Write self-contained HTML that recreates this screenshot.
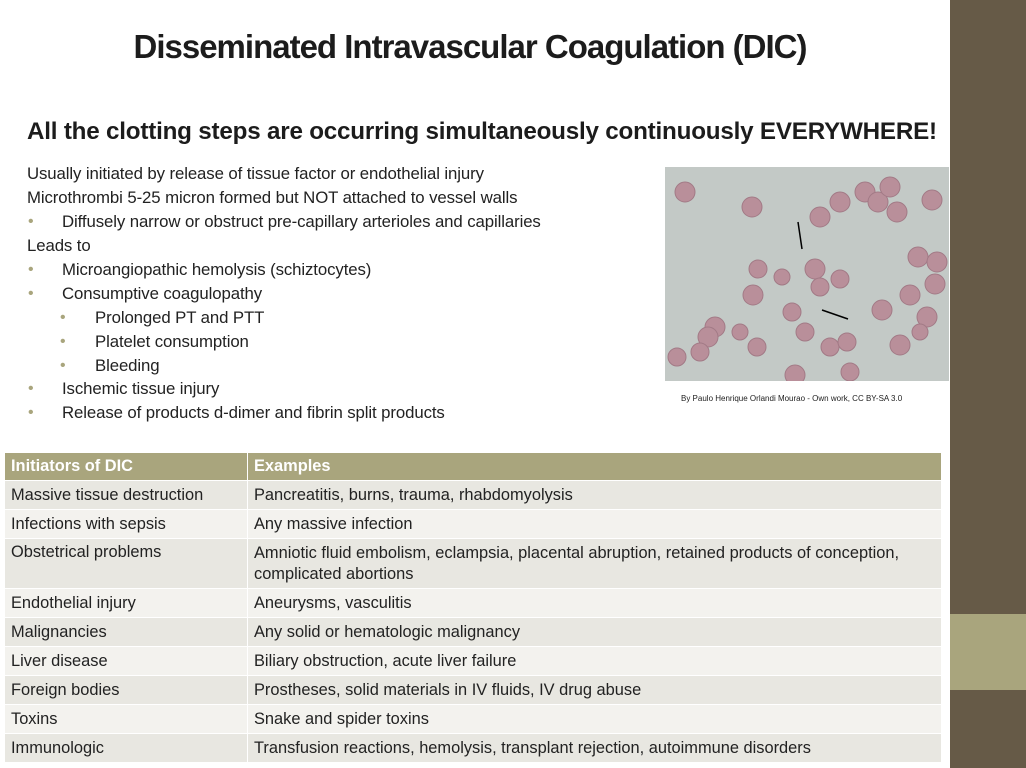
<!DOCTYPE html>
<html><head><meta charset="utf-8"><style>
body{margin:0;width:1026px;height:768px;position:relative;overflow:hidden;background:#fff;font-family:"Liberation Sans",sans-serif;color:#222}
.abs{position:absolute;white-space:nowrap}
#side{left:950px;top:0;width:76px;height:768px;background:#665a47}
#band{left:950px;top:614px;width:76px;height:76px;background:#a9a57d}
h1{position:absolute;left:0;width:940px;top:28px;margin:0;text-align:center;font-size:33px;font-weight:bold;letter-spacing:-1px;color:#1c1c1c}
h2{position:absolute;left:27px;top:118px;margin:0;font-size:24.2px;font-weight:bold;letter-spacing:-0.2px;color:#1c1c1c}
.l{position:absolute;font-size:16.8px;white-space:nowrap;letter-spacing:-0.1px}
.b{color:#a9a57d;position:absolute;font-size:16px}
table{position:absolute;left:4px;top:452px;width:938px;border-collapse:collapse;font-size:16.4px}
td{border:1px solid #fff;padding:0 6px;height:28px;vertical-align:middle}
td:first-child{width:230px}
th{background:#a9a57d;color:#fff;text-align:left;padding:0 6px;height:27px;border:1px solid #fff;font-size:16.4px}
tr.o td{background:#e8e7e1}tr.e td{background:#f3f2ee}
</style></head><body>
<div class="abs" id="side"></div>
<div class="abs" id="band"></div>
<h1>Disseminated Intravascular Coagulation (DIC)</h1>
<h2>All the clotting steps are occurring simultaneously continuously EVERYWHERE!</h2>
<div>
<div class="l" style="left:27px;top:164px">Usually initiated by release of tissue factor or endothelial injury</div>
<div class="l" style="left:27px;top:188px">Microthrombi 5-25 micron formed but NOT attached to vessel walls</div>
<div class="b" style="left:28px;top:213px">•</div><div class="l" style="left:62px;top:212px">Diffusely narrow or obstruct pre-capillary arterioles and capillaries</div>
<div class="l" style="left:27px;top:236px">Leads to</div>
<div class="b" style="left:28px;top:261px">•</div><div class="l" style="left:62px;top:260px">Microangiopathic hemolysis (schiztocytes)</div>
<div class="b" style="left:28px;top:285px">•</div><div class="l" style="left:62px;top:284px">Consumptive coagulopathy</div>
<div class="b" style="left:60px;top:309px">•</div><div class="l" style="left:95px;top:308px">Prolonged PT and PTT</div>
<div class="b" style="left:60px;top:333px">•</div><div class="l" style="left:95px;top:332px">Platelet consumption</div>
<div class="b" style="left:60px;top:357px">•</div><div class="l" style="left:95px;top:356px">Bleeding</div>
<div class="b" style="left:28px;top:380px">•</div><div class="l" style="left:62px;top:379px">Ischemic tissue injury</div>
<div class="b" style="left:28px;top:404px">•</div><div class="l" style="left:62px;top:403px">Release of products d-dimer and fibrin split products</div>
</div>
<svg class="abs" style="left:665px;top:167px" width="284" height="214">
<rect width="284" height="214" fill="#c3c9c6"/>
<g fill="#b98f9a" stroke="#a27a86" stroke-width="1">
<circle cx="20" cy="25" r="10"/><circle cx="87" cy="40" r="10"/><circle cx="155" cy="50" r="10"/><circle cx="175" cy="35" r="10"/><circle cx="200" cy="25" r="10"/><circle cx="213" cy="35" r="10"/><circle cx="225" cy="20" r="10"/><circle cx="232" cy="45" r="10"/><circle cx="267" cy="33" r="10"/><circle cx="253" cy="90" r="10"/><circle cx="272" cy="95" r="10"/><circle cx="270" cy="117" r="10"/><circle cx="93" cy="102" r="9"/><circle cx="117" cy="110" r="8"/><circle cx="150" cy="102" r="10"/><circle cx="155" cy="120" r="9"/><circle cx="175" cy="112" r="9"/><circle cx="88" cy="128" r="10"/><circle cx="127" cy="145" r="9"/><circle cx="50" cy="160" r="10"/><circle cx="43" cy="170" r="10"/><circle cx="75" cy="165" r="8"/><circle cx="92" cy="180" r="9"/><circle cx="140" cy="165" r="9"/><circle cx="165" cy="180" r="9"/><circle cx="182" cy="175" r="9"/><circle cx="217" cy="143" r="10"/><circle cx="245" cy="128" r="10"/><circle cx="262" cy="150" r="10"/><circle cx="235" cy="178" r="10"/><circle cx="12" cy="190" r="9"/><circle cx="35" cy="185" r="9"/><circle cx="130" cy="208" r="10"/><circle cx="185" cy="205" r="9"/><circle cx="255" cy="165" r="8"/>
</g>
<line x1="133" y1="55" x2="137" y2="82" stroke="#000" stroke-width="1.5"/><line x1="183" y1="152" x2="157" y2="143" stroke="#000" stroke-width="1.5"/>
</svg>
<div class="abs" style="left:681px;top:394px;font-size:8px;color:#222">By Paulo Henrique Orlandi Mourao - Own work, CC BY-SA 3.0</div>
<table>
<tr><th>Initiators of DIC</th><th>Examples</th></tr>
<tr class="o"><td>Massive tissue destruction</td><td>Pancreatitis, burns, trauma, rhabdomyolysis</td></tr>
<tr class="e"><td>Infections with sepsis</td><td>Any massive infection</td></tr>
<tr class="o"><td style="vertical-align:top;padding-top:4px;height:45px">Obstetrical problems</td><td style="height:45px;line-height:21px">Amniotic fluid embolism, eclampsia, placental abruption, retained products of conception,<br>complicated abortions</td></tr>
<tr class="e"><td>Endothelial injury</td><td>Aneurysms, vasculitis</td></tr>
<tr class="o"><td>Malignancies</td><td>Any solid or hematologic malignancy</td></tr>
<tr class="e"><td>Liver disease</td><td>Biliary obstruction, acute liver failure</td></tr>
<tr class="o"><td>Foreign bodies</td><td>Prostheses, solid materials in IV fluids, IV drug abuse</td></tr>
<tr class="e"><td>Toxins</td><td>Snake and spider toxins</td></tr>
<tr class="o"><td>Immunologic</td><td>Transfusion reactions, hemolysis, transplant rejection, autoimmune disorders</td></tr>
</table>
</body></html>
